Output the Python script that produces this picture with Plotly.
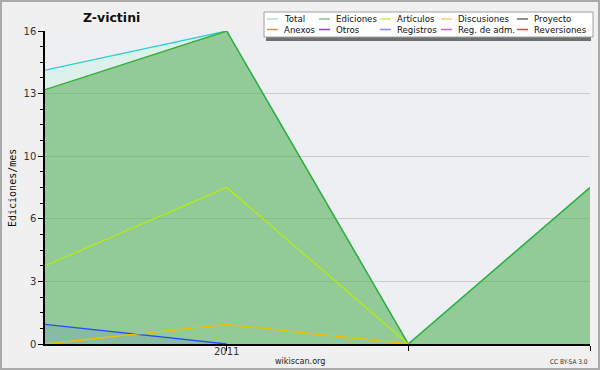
import plotly.graph_objects as go

# ---- data ----
months = ["2010-12", "2011-01", "2011-02", "2011-03"]
x_idx = [0, 1, 2, 3]
total = [14, 16, 0, 8]
ediciones = [13, 16, 0, 8]
articulos = [4, 8, 0, None]
discusiones = [0, 1, 0, None]
registros = [1, 0, None, None]

y_tickvals = [0, 3.2, 6.4, 9.6, 12.8, 16]
y_ticktext = ["0", "3", "6", "10", "13", "16"]
x_tickvals = [1, 2, 3]
x_ticktext = ["2011", "", ""]

legend_names = ["Total", "Ediciones", "Artículos", "Discusiones", "Proyecto",
                "Anexos", "Otros", "Registros", "Reg. de adm.", "Reversiones"]
legend_colors = ["#a6e4e4", "#84c884", "#cdee66", "#fbd06a", "#6a6a6a",
                 "#f0884c", "#8444d8", "#8488ff", "#d85cd8", "#e84040"]

# ---- layout geometry (pixels) ----
W, H = 600, 370
L, R, T, B = 45, 590, 31, 344
PW, PH = R - L, B - T


def px(x):
    return (x - L) / PW


def py(y):
    return (B - y) / PH


FONT = "DejaVu Sans"

fig = go.Figure()
fig.add_trace(go.Scatter(x=x_idx, y=total, mode="lines", fill="tozeroy",
                         line=dict(color="#30d0d0", width=1.3),
                         fillcolor="rgba(148,249,212,0.2)", name="Total"))
fig.add_trace(go.Scatter(x=x_idx, y=ediciones, mode="lines", fill="tozeroy",
                         line=dict(color="#34b034", width=1.4),
                         fillcolor="rgba(72,165,68,0.5)", name="Ediciones"))
fig.add_trace(go.Scatter(x=x_idx, y=registros, mode="lines", fill="tozeroy",
                         line=dict(color="#2a48ff", width=1.3),
                         fillcolor="rgba(60,110,230,0.15)", name="Registros"))
fig.add_trace(go.Scatter(x=x_idx, y=articulos, mode="lines",
                         line=dict(color="#b8f000", width=1.1), name="Artículos"))
fig.add_trace(go.Scatter(x=x_idx, y=discusiones, mode="lines",
                         line=dict(color="#f0c000", width=1.3), name="Discusiones"))

shapes = []
annotations = []

# outer border
shapes.append(dict(type="rect", xref="paper", yref="paper",
                   x0=px(1), x1=px(599), y0=py(1), y1=py(369),
                   line=dict(color="#aaaaaa", width=2), fillcolor="rgba(0,0,0,0)",
                   layer="above"))

# legend box with shadow
shapes.append(dict(type="rect", xref="paper", yref="paper",
                   x0=px(266), x1=px(591), y0=py(15), y1=py(41),
                   line=dict(width=0), fillcolor="#707070", layer="above"))
shapes.append(dict(type="rect", xref="paper", yref="paper",
                   x0=px(264), x1=px(593), y0=py(12), y1=py(37),
                   line=dict(color="#a0a0a0", width=1), fillcolor="#ffffff",
                   layer="above"))

col_x = [267, 319, 380, 441, 517]
row_y = [19, 29.5]
for i, (name, col) in enumerate(zip(legend_names, legend_colors)):
    r, c = divmod(i, 5)
    x0 = col_x[c]
    yy = row_y[r]
    shapes.append(dict(type="line", xref="paper", yref="paper",
                       x0=px(x0), x1=px(x0 + 11), y0=py(yy), y1=py(yy),
                       line=dict(color=col, width=1.5), layer="above"))
    annotations.append(dict(xref="paper", yref="paper", x=px(x0 + 15), y=py(yy),
                            text=name, showarrow=False, xanchor="left",
                            yanchor="middle",
                            font=dict(family=FONT, size=8.6, color="#111111")))

# x tick labels (placed close to the axis as in the reference)
for xv, xt in zip(x_tickvals, x_ticktext):
    if xt:
        annotations.append(dict(xref="x", yref="paper", x=xv, y=py(351),
                                text=xt, showarrow=False, xanchor="center",
                                yanchor="middle",
                                font=dict(family=FONT, size=10, color="#333333")))

# title
annotations.append(dict(xref="paper", yref="paper", x=px(111), y=py(17),
                        text="<b>Z-victini</b>", showarrow=False,
                        xanchor="center", yanchor="middle",
                        font=dict(family=FONT, size=12.5, color="#111111")))
# y axis title
annotations.append(dict(xref="paper", yref="paper", x=px(12), y=py(188),
                        text="Ediciones/mes", showarrow=False, textangle=-90,
                        xanchor="center", yanchor="middle",
                        font=dict(family="DejaVu Sans Mono", size=10, color="#111111")))
# footer
annotations.append(dict(xref="paper", yref="paper", x=px(300), y=py(361),
                        text="wikiscan.org", showarrow=False,
                        xanchor="center", yanchor="middle",
                        font=dict(family="DejaVu Sans Condensed, DejaVu Sans", size=9,
                                  color="#222222")))
annotations.append(dict(xref="paper", yref="paper", x=px(590), y=py(362),
                        text="CC BY-SA 3.0", showarrow=False,
                        xanchor="right", yanchor="middle",
                        font=dict(family="DejaVu Sans Condensed, DejaVu Sans", size=6.5,
                                  color="#333333")))

fig.update_layout(
    width=W, height=H,
    margin=dict(l=L, r=W - R, t=T, b=H - B, pad=0, autoexpand=False),
    paper_bgcolor="#f0f0f0",
    plot_bgcolor="#eeeff2",
    showlegend=False,
    shapes=shapes,
    annotations=annotations,
    font=dict(family=FONT, size=10, color="#333333"),
)
fig.update_xaxes(range=[0, 3], tickmode="array", tickvals=x_tickvals,
                 ticktext=x_ticktext, showticklabels=False,
                 ticks="outside", ticklen=5, tickwidth=1,
                 tickcolor="#000000", showline=True, linecolor="#000000",
                 linewidth=1.5, showgrid=False, zeroline=False, automargin=False)
fig.update_yaxes(range=[0, 16], tickmode="array", tickvals=y_tickvals,
                 ticktext=y_ticktext, ticks="outside", ticklen=5, tickwidth=1,
                 tickcolor="#000000", showline=True, linecolor="#000000",
                 linewidth=1.5, showgrid=True, gridcolor="#cccccc", gridwidth=1,
                 zeroline=False, automargin=False,
                 tickfont=dict(family=FONT, size=10, color="#333333"),
                 minor=dict(tickmode="linear", tick0=0, dtick=0.8, ticks="outside",
                            ticklen=3, tickcolor="#000000", showgrid=False))

fig.write_html("out.html")
